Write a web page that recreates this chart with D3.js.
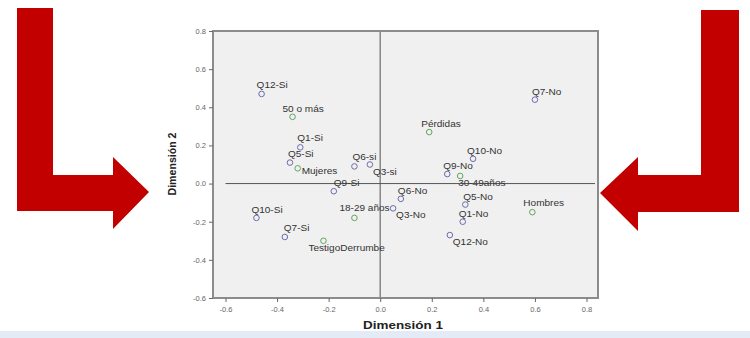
<!DOCTYPE html>
<html><head><meta charset="utf-8">
<script src="https://cdn.jsdelivr.net/npm/d3@7"></script>
<style>body{margin:0;background:#fff}svg{display:block}</style>
</head><body><svg id="c" width="750" height="338"></svg>
<script>
const labels = ["Q12-Si","50 o más","Q1-Si","Q5-Si","Mujeres","Q6-si","Q3-si","Q9-Si","Q10-Si","Q7-Si","TestigoDerrumbe","18-29 años","Q3-No","Q6-No","Q5-No","Q1-No","Q12-No","Hombres","30-49años","Q9-No","Q10-No","Pérdidas","Q7-No"];
const dim1 = [-0.46,-0.34,-0.31,-0.35,-0.32,-0.10,-0.04,-0.18,-0.48,-0.37,-0.22,-0.10,0.05,0.08,0.33,0.32,0.27,0.59,0.31,0.26,0.36,0.19,0.60];
const dim2 = [0.47,0.35,0.19,0.11,0.08,0.09,0.10,-0.04,-0.18,-0.28,-0.30,-0.18,-0.13,-0.08,-0.11,-0.20,-0.27,-0.15,0.04,0.05,0.13,0.27,0.44];
const group = ["q","d","q","q","d","q","q","q","q","q","d","d","q","q","q","q","q","d","d","q","q","d","q"];
const xTicks = [-0.6,-0.4,-0.2,0.0,0.2,0.4,0.6,0.8];
const yTicks = [-0.6,-0.4,-0.2,0.0,0.2,0.4,0.6,0.8];

// label placement (style): [dx, dy] from circle centre to label start/baseline
const place = {"Q12-Si":[-5,-6],"50 o más":[-10,-5],"Q1-Si":[-3,-6],"Q5-Si":[-2,-6],"Mujeres":[4,6],
 "Q6-si":[-2,-6],"Q3-si":[3,10],"Q9-Si":[0,-5],"Q10-Si":[-5,-5],"Q7-Si":[-1,-6],"TestigoDerrumbe":[-15,10],
 "18-29 años":[-15,-7],"Q3-No":[3,10],"Q6-No":[-3,-5],"Q5-No":[-2,-5],"Q1-No":[-4,-5],"Q12-No":[3,10],
 "Hombres":[-9,-6],"30-49años":[-2,10],"Q9-No":[-4,-5],"Q10-No":[-6,-5],"Pérdidas":[-8,-5],"Q7-No":[-3,-5]};

const svg = d3.select("#c");
svg.append("rect").attr("x",0).attr("y",331).attr("width",750).attr("height",7).attr("fill","#e3ebf7");

// arrows
const red = "#c20000";
svg.append("path").attr("fill",red)
  .attr("d","M17,8 L53,8 L53,175 L113,175 L113,157 L149,192 L113,229 L113,211 L17,211 Z");
svg.append("path").attr("fill",red)
  .attr("d","M701,10 L739,10 L739,212 L638,212 L638,231 L600,193 L638,157 L638,175 L701,175 Z");

const L=213, R=598, T=31, B=298;
const x = d3.scaleLinear().domain([-0.6,0.8]).range([225.5,586.5]);
const y = d3.scaleLinear().domain([-0.6,0.8]).range([B,T]);

svg.append("rect").attr("x",L).attr("y",T).attr("width",R-L).attr("height",B-T)
  .attr("fill","#f0f0f0").attr("stroke","#8c8c8c").attr("stroke-width",2);

// zero lines
svg.append("line").attr("x1",x(0)).attr("x2",x(0)).attr("y1",T).attr("y2",B)
  .attr("stroke","#8c8c8c").attr("stroke-width",1.6);
svg.append("line").attr("x1",x(-0.6)).attr("x2",R-3).attr("y1",y(0)).attr("y2",y(0))
  .attr("stroke","#555").attr("stroke-width",1);

const fmt = d => d.toFixed(1);
const xa = svg.append("g").attr("transform",`translate(0,${B})`)
  .call(d3.axisBottom(x).tickValues(xTicks).tickFormat(fmt).tickSize(4).tickSizeOuter(0));
const ya = svg.append("g").attr("transform",`translate(${L},0)`)
  .call(d3.axisLeft(y).tickValues(yTicks).tickFormat(fmt).tickSize(4).tickSizeOuter(0));
[xa,ya].forEach(a=>{
  a.select(".domain").remove();
  a.selectAll(".tick line").attr("stroke","#666");
  a.selectAll(".tick text").attr("fill","#666").style("font","7.5px 'Liberation Sans',Arial,sans-serif");
});
xa.selectAll(".tick text").attr("dy","0.9em");

const pts = svg.append("g");
labels.forEach((lab,i)=>{
  const cx=x(dim1[i]), cy=y(dim2[i]);
  const col = group[i]==="q" ? "#6b6bb0" : "#5fa55f";
  pts.append("circle").attr("cx",cx).attr("cy",cy).attr("r",2.8)
    .attr("fill","none").attr("stroke",col).attr("stroke-width",1);
  const p = place[lab];
  pts.append("text").attr("transform",`translate(${cx+p[0]},${cy+p[1]}) scale(1.18,1)`).text(lab)
    .attr("fill","#333").style("font","8.5px 'Liberation Sans',Arial,sans-serif");
});

svg.append("text").attr("x",403).attr("y",329).attr("text-anchor","middle")
  .attr("textLength",80).attr("lengthAdjust","spacingAndGlyphs")
  .style("font","bold 11px 'Liberation Sans',Arial,sans-serif").attr("fill","#222").text("Dimensión 1");
svg.append("text").attr("transform","translate(176,164) rotate(-90)").attr("text-anchor","middle")
  .attr("textLength",63).attr("lengthAdjust","spacingAndGlyphs")
  .style("font","bold 11px 'Liberation Sans',Arial,sans-serif").attr("fill","#222").text("Dimensión 2");
</script></body></html>
